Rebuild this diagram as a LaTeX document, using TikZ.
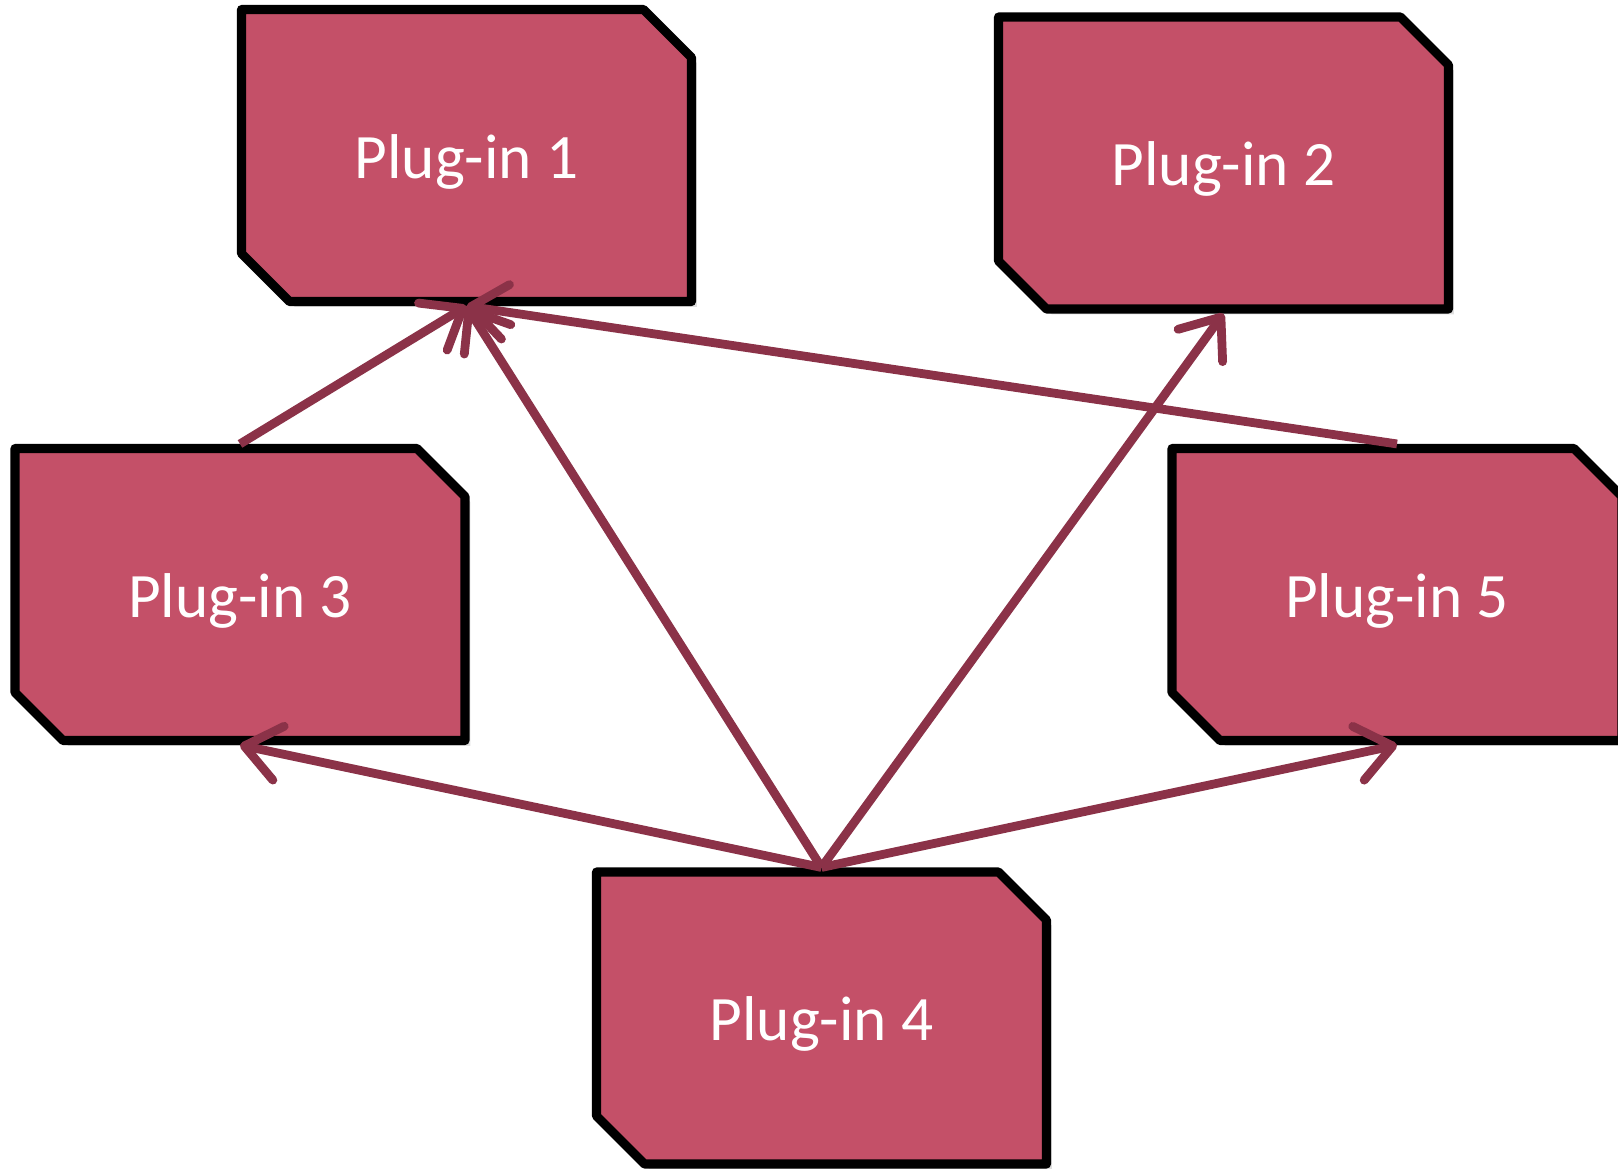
\documentclass[tikz,border=0pt]{standalone}
\usepackage{fontspec}
\setmainfont{Carlito}
\usetikzlibrary{shapes.misc}
\usetikzlibrary{arrows.meta}
\usetikzlibrary{shadows}

\definecolor{plugfill}{RGB}{196,80,104}
\definecolor{plugline}{RGB}{139,50,72}

\tikzset{
  plugin/.style={chamfered rectangle, chamfered rectangle corners={north east,south west},
    chamfered rectangle xsep=0.24cm, chamfered rectangle ysep=0.24cm,
    minimum width=4.5cm, minimum height=2.92cm, inner sep=0pt,
    text height=0.58cm, text depth=0.13cm,
    draw=black, line width=2.6pt, line join=round, fill=plugfill, text=white,
    font=\fontsize{18}{21}\selectfont,
    drop shadow={opacity=0.25, shadow xshift=1.5pt, shadow yshift=-1.5pt}},
  dep/.style={draw=plugline, line width=2.5pt,
    -{Straight Barb[length=3.5mm, width=5.5mm, round]}}
}

\begin{document}
\begin{tikzpicture}
    \useasboundingbox (0, 0) rectangle (16.18, -11.68);
    % plug-ins
    \node [plugin] (1) at (4.665, -1.555) {Plug-in 1};
    \node [plugin] (2) at (12.235, -1.63) {Plug-in 2};
    \node [plugin] (3) at (2.40, -5.945) {Plug-in 3};
    \node [plugin] (5) at (13.97, -5.945) {Plug-in 5};
    \node [plugin] (4) at (8.215, -10.18) {Plug-in 4};
    % dependencies
    \draw [dep] (3.north) to (1.south);
    \draw [dep] (4.north) to (1.south);
    \draw [dep] (5.north) to (1.south);
    \draw [dep] (4.north) to (2.south);
    \draw [dep] (4.north) to (3.south);
    \draw [dep] (4.north) to (5.south);
\end{tikzpicture}
\end{document}
